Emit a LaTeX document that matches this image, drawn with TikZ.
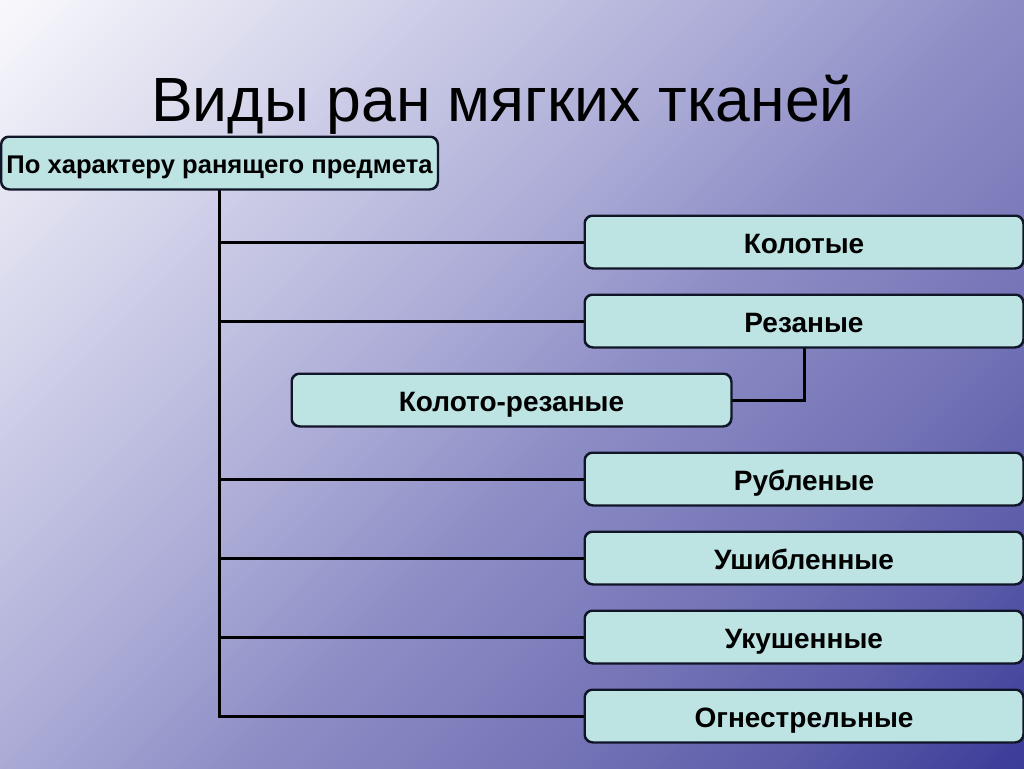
\documentclass[tikz,border=0pt]{standalone}
\usepackage{fontspec}
\setmainfont{Liberation Sans}
\definecolor{g0}{RGB}{249,249,252}
\definecolor{g1}{RGB}{214,214,236}
\definecolor{g2}{RGB}{170,170,214}
\definecolor{g3}{RGB}{142,142,198}
\definecolor{g4}{RGB}{118,118,184}
\definecolor{g5}{RGB}{92,92,170}
\definecolor{g6}{RGB}{58,58,152}
\definecolor{boxfill}{RGB}{189,227,227}
\definecolor{boxline}{RGB}{16,22,40}
\newcommand\gradseg[5]{%
  \foreach \i in {1,...,#5}{%
    \pgfmathsetmacro\sa{#1+(#2-#1)*(\i-1)/#5}%
    \pgfmathsetmacro\sb{#1+(#2-#1)*\i/#5+1.5}%
    \pgfmathsetmacro\pp{100*(\i-0.5)/#5}%
    \fill[#4!\pp!#3] (\sa+800,-800) -- (\sb+800,-800) -- (\sb-800,800) -- (\sa-800,800) -- cycle;
  }}
\begin{document}
\begin{tikzpicture}[x=1pt,y=-1pt,
  box/.style={draw=boxline, line width=1.5pt, fill=boxfill, rounded corners=8pt,
    minimum width=438pt, minimum height=52pt, inner sep=0pt,
    text height=22pt, text depth=0pt,
    font=\bfseries\fontsize{28}{30}\selectfont, text=black},
  link/.style={line width=3pt, draw=black}]
\useasboundingbox (0,0) rectangle (1024,768);
\begin{scope}
\clip (0,0) rectangle (1024,768);
\gradseg{0}{350}{g0}{g1}{30}
\gradseg{350}{770}{g1}{g2}{36}
\gradseg{770}{1000}{g2}{g3}{20}
\gradseg{1000}{1300}{g3}{g4}{26}
\gradseg{1300}{1550}{g4}{g5}{22}
\gradseg{1550}{1800}{g5}{g6}{22}
\end{scope}
\node[anchor=base, font=\fontsize{62.5}{66}\selectfont] (title) at (503,121) {Виды ран мягких тканей};
\node[box, minimum width=436pt, text height=20pt, font=\bfseries\fontsize{25.6}{28}\selectfont] (top) at (219.5,163) {По характеру ранящего предмета};
\node[box] (n1) at (804,242) {Колотые};
\node[box] (n2) at (804,321) {Резаные};
\node[box, minimum width=439pt] (kr) at (511.5,400) {Колото-резаные};
\node[box] (n3) at (804,479) {Рубленые};
\node[box] (n4) at (804,558) {Ушибленные};
\node[box] (n5) at (804,637) {Укушенные};
\node[box] (n6) at (804,716) {Огнестрельные};
% connectors
\draw[link] (top.south) -- (top.south |- n6.west) -- (n6.west);
\foreach \n in {n1,n2,n3,n4,n5}{
  \draw[link] (top.south |- \n.west) -- (\n.west);
}
\draw[link] (n2.south) |- (kr.east);
% redraw borders over line ends
\foreach \n in {top,n1,n2,kr,n3,n4,n5,n6}{
  \draw[boxline, line width=1.5pt, rounded corners=8pt] (\n.south west) rectangle (\n.north east);
}
\end{tikzpicture}
\end{document}
